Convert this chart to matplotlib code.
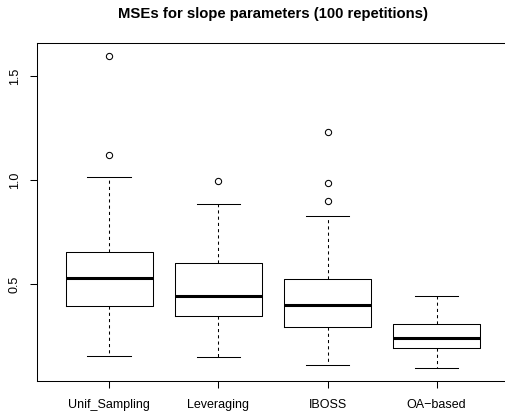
import numpy as np
import matplotlib
matplotlib.use("Agg")
import matplotlib.pyplot as plt

plt.rcParams["font.family"] = ["Liberation Sans", "DejaVu Sans"]

methods = ["Unif_Sampling", "Leveraging", "IBOSS", "OA\u2212based"]
whislo  = [0.157, 0.154, 0.115, 0.098]
q1      = [0.397, 0.350, 0.298, 0.194]
med     = [0.533, 0.445, 0.400, 0.245]
q3      = [0.656, 0.602, 0.528, 0.312]
whishi  = [1.014, 0.885, 0.829, 0.445]
fliers  = [[1.596, 1.120], [0.996], [1.230, 0.988, 0.902], []]

stats = [dict(label=m, whislo=lo, q1=a, med=md, q3=b, whishi=hi, fliers=f)
         for m, lo, a, md, b, hi, f in zip(methods, whislo, q1, med, q3, whishi, fliers)]

fig = plt.figure(figsize=(5.06, 4.11), dpi=100)
ax = fig.add_axes([0.0737, 0.0735, 0.9316, 0.8207])

lw = 0.75
ax.bxp(stats, positions=[1, 2, 3, 4], widths=0.8, showfliers=True,
       boxprops=dict(color="black", linewidth=lw),
       whiskerprops=dict(color="black", linewidth=lw, linestyle=(0, (3, 3))),
       capprops=dict(color="black", linewidth=lw),
       capwidths=0.4,
       medianprops=dict(color="black", linewidth=2.2, solid_capstyle="butt"),
       flierprops=dict(marker="o", markerfacecolor="none", markeredgecolor="black",
                       markersize=4.5, markeredgewidth=0.75))

ax.set_xlim(0.34, 4.66)
ax.set_ylim(0.038, 1.656)
ax.set_yticks([0.5, 1.0, 1.5])
ax.set_yticklabels(["0.5", "1.0", "1.5"])
ax.set_xticks([1, 2, 3, 4])
ax.set_xticklabels(methods)
ax.tick_params(axis="both", length=5, width=lw, labelsize=9, direction="out")
ax.tick_params(axis="x", pad=7.8)
ax.tick_params(axis="y", pad=7, labelrotation=90)
for lab in ax.get_yticklabels():
    lab.set_va("center")
for s in ax.spines.values():
    s.set_linewidth(lw)
# plot frame runs past the right edge of the image
ax.spines["right"].set_visible(False)

fig.text(0.54, 1 - 14 / 411, "MSEs for slope parameters (100 repetitions)",
         ha="center", va="center", fontsize=10.7, fontweight="bold")

fig.savefig("out.png", dpi=100)
